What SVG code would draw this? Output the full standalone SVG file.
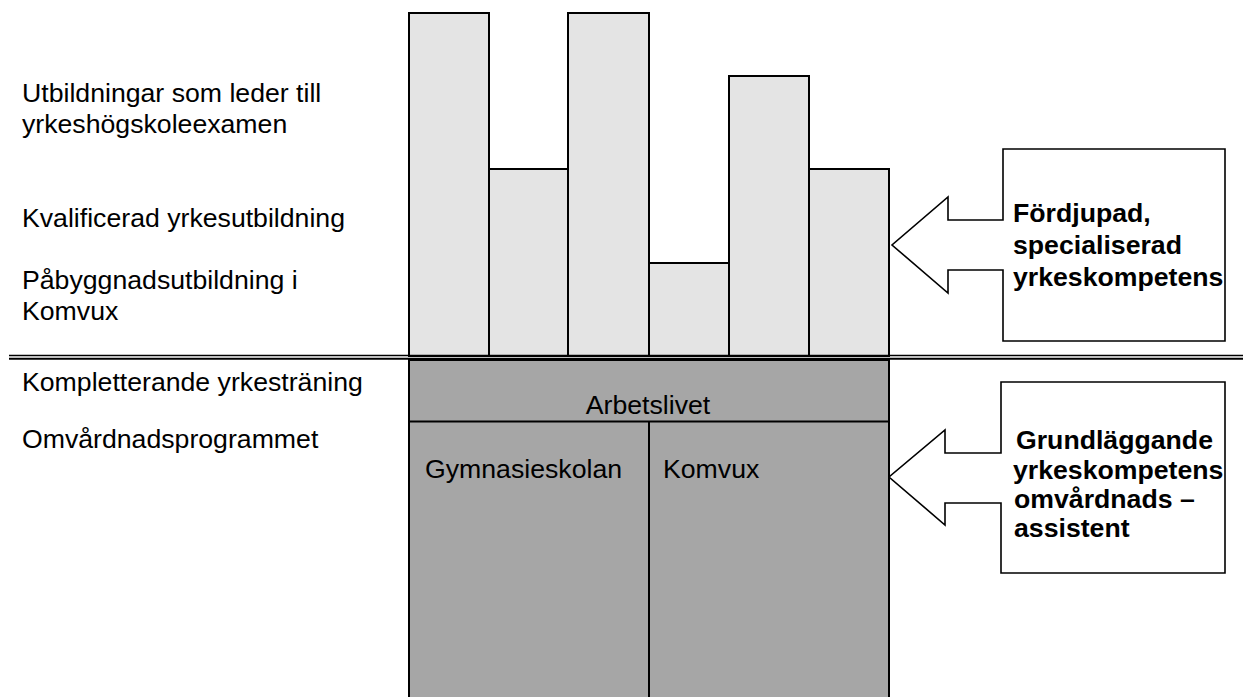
<svg xmlns="http://www.w3.org/2000/svg" width="1243" height="697" viewBox="0 0 1243 697">
<style>
.t{font-family:"Liberation Sans",Arial,sans-serif;font-size:26.67px;fill:#000}
.b{font-family:"Liberation Sans",Arial,sans-serif;font-size:26.67px;font-weight:bold;fill:#000}
.bar{fill:#e4e4e4;stroke:#000;stroke-width:2}
.low{fill:#a6a6a6;stroke:#000;stroke-width:2}
.call{fill:#fff;stroke:#000;stroke-width:1.6;stroke-linejoin:miter}
</style>
<rect width="1243" height="697" fill="#fff"/>
<g id="labels-left">
<text class="t" x="22" y="102">Utbildningar som leder till</text>
<text class="t" x="22" y="133">yrkeshögskoleexamen</text>
<text class="t" x="22" y="227">Kvalificerad yrkesutbildning</text>
<text class="t" x="22" y="289">Påbyggnadsutbildning i</text>
<text class="t" x="22" y="320">Komvux</text>
<text class="t" x="22" y="391">Kompletterande yrkesträning</text>
<text class="t" x="22" y="448">Omvårdnadsprogrammet</text>
</g>
<g id="bars">
<rect class="bar" x="409" y="13" width="80" height="343"/>
<rect class="bar" x="489" y="169" width="79" height="187"/>
<rect class="bar" x="568" y="13" width="81" height="343"/>
<rect class="bar" x="649" y="263" width="80" height="93"/>
<rect class="bar" x="729" y="76" width="80" height="280"/>
<rect class="bar" x="809" y="169" width="80" height="187"/>
</g>
<g id="divider">
<line x1="9" y1="355.5" x2="1243" y2="355.5" stroke="#000" stroke-width="1.6"/>
<line x1="9" y1="358.8" x2="1243" y2="358.8" stroke="#000" stroke-width="2"/>
</g>
<g id="lower">
<rect class="low" x="409" y="360" width="480" height="340"/>
<line x1="409" y1="421.5" x2="889" y2="421.5" stroke="#000" stroke-width="2"/>
<line x1="649" y1="421.5" x2="649" y2="697" stroke="#000" stroke-width="2"/>
<text class="t" x="648" y="414" text-anchor="middle">Arbetslivet</text>
<text class="t" x="425" y="478">Gymnasieskolan</text>
<text class="t" x="663" y="478">Komvux</text>
</g>
<g id="callout1">
<path class="call" d="M1003,149 H1225 V341 H1003 V270 H948 V293 L892,245 L948,197 V220 H1003 Z"/>
<text class="b" x="1013" y="222">Fördjupad,</text>
<text class="b" x="1013" y="254">specialiserad</text>
<text class="b" x="1013" y="286">yrkeskompetens</text>
</g>
<g id="callout2">
<path class="call" d="M1001,382 H1225 V573 H1001 V503 H945 V525 L889,477 L945,430 V453 H1001 Z"/>
<text class="b" x="1016" y="449">Grundläggande</text>
<text class="b" x="1013" y="479">yrkeskompetens</text>
<text class="b" x="1014" y="508">omvårdnads –</text>
<text class="b" x="1014" y="537">assistent</text>
</g>
</svg>
